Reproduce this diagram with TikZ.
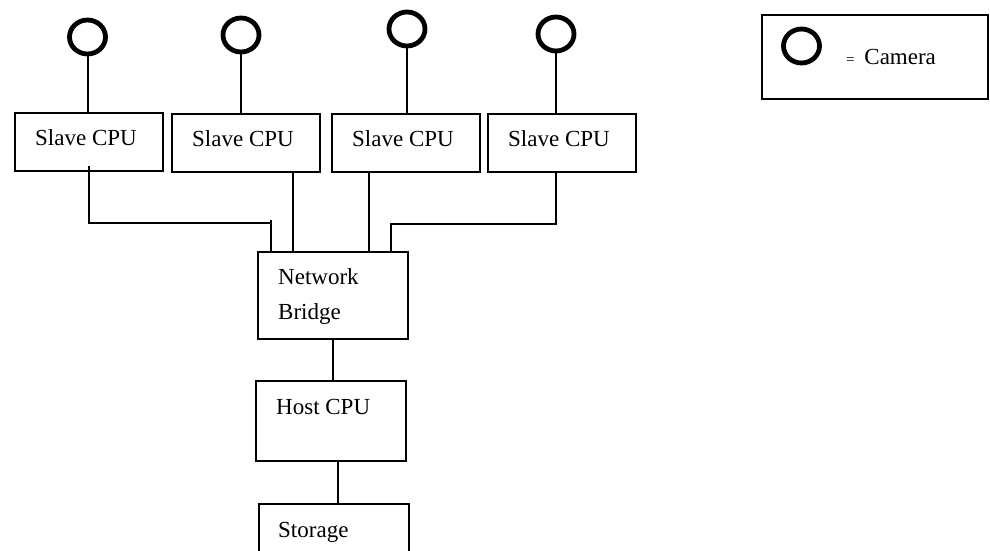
\documentclass[tikz,border=0pt]{standalone}
\usepackage{fontspec}
\setmainfont{Liberation Serif}
\usetikzlibrary{shapes.geometric}
\begin{document}
\begin{tikzpicture}[x=1pt,y=-1pt,
  box/.style={draw, line width=2pt, rectangle, inner sep=0pt},
  cam/.style={draw, line width=4.8pt, ellipse, minimum width=36pt, minimum height=34pt, inner sep=0pt},
  wire/.style={line width=2pt},
  lbl/.style={font=\fontsize{23}{28}\selectfont, inner sep=0pt, anchor=base west}]
\clip (0,0) rectangle (990,551);
\fill[white] (0,0) rectangle (990,551);
% cameras
\node[cam] (c1) at (87.5,37) {};
\node[cam] (c2) at (241,35) {};
\node[cam] (c3) at (407,29) {};
\node[cam] (c4) at (556,34) {};
% slave boxes
\node[box, minimum width=148pt, minimum height=58pt] (s1) at (88.5,141.5) {};
\node[box, minimum width=148pt, minimum height=58pt] (s2) at (246,142.5) {};
\node[box, minimum width=148pt, minimum height=58pt] (s3) at (405.5,142.5) {};
\node[box, minimum width=148pt, minimum height=58pt] (s4) at (561.5,142.5) {};
\node[lbl] (t1) at (35,145) {Slave CPU};
\node[lbl] (t2) at (192,146) {Slave CPU};
\node[lbl] (t3) at (352,146) {Slave CPU};
\node[lbl] (t4) at (508,146) {Slave CPU};
% bridge, host, storage
\node[box, minimum width=150pt, minimum height=87pt] (bridge) at (332.5,295) {};
\node[lbl] (tb1) at (278,284) {Network};
\node[lbl] (tb2) at (278,319) {Bridge};
\node[box, minimum width=150pt, minimum height=80pt] (host) at (330.5,420.5) {};
\node[lbl] (th) at (276,414) {Host CPU};
\node[box, minimum width=150pt, minimum height=100pt] (storage) at (333.5,554) {};
\node[lbl] (ts) at (278,537) {Storage};
% legend
\node[box, minimum width=226pt, minimum height=83pt] (legend) at (874.5,57) {};
\node[cam] (lc) at (801.5,46) {};
\node[lbl] (lt) at (846,65) {{\fontsize{15}{15}\selectfont =}\hspace{4pt} Camera};
% camera wires
\foreach \i in {1,2,3,4} {
  \draw[wire] (c\i.south) -- (c\i.south |- s\i.north);
}
% slave to bridge
\coordinate (k1) at (89,166);
\coordinate (k2) at (271,223);
\draw[wire] (k1) |- (k2);
\draw[wire] (k2) ++(0,-3) -- (k2 |- bridge.north);
\coordinate (k3) at (293,172);
\draw[wire] (k3 |- s2.south) -- (k3 |- bridge.north);
\coordinate (k4) at (369,172);
\draw[wire] (k4 |- s3.south) -- (k4 |- bridge.north);
\coordinate (k5) at (556,172);
\coordinate (k6) at (391,224);
\draw[wire] (k5 |- s4.south) |- (k6) -- (k6 |- bridge.north);
% bridge to host to storage
\draw[wire] (bridge.south) -- (bridge.south |- host.north);
\coordinate (k7) at (338,461);
\draw[wire] (k7 |- host.south) -- (k7 |- storage.north);
\end{tikzpicture}
\end{document}
